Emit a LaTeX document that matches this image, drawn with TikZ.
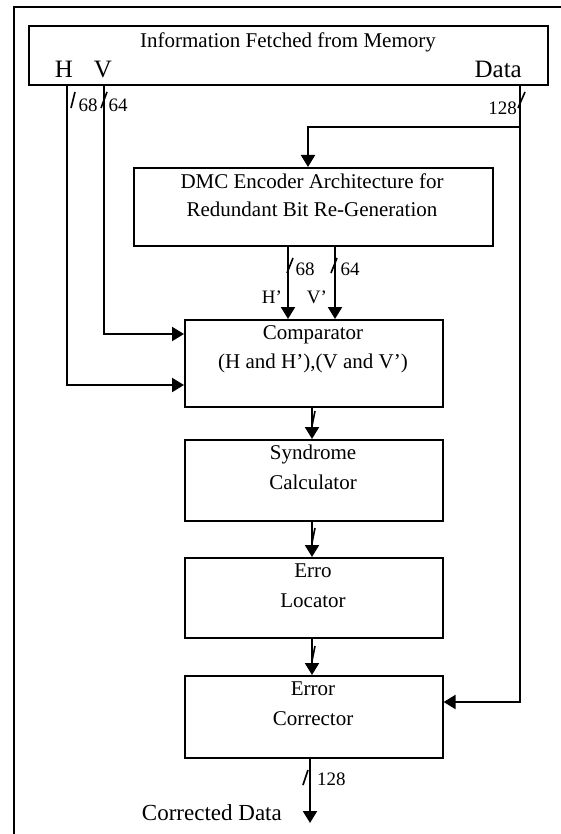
\documentclass[tikz,border=0pt]{standalone}
\usepackage{fontspec}
\setmainfont{Liberation Serif}
\usetikzlibrary{arrows.meta}
\newcommand{\fsz}[1]{\fontsize{#1}{#1}\selectfont}
\begin{document}
\begin{tikzpicture}[x=1pt,y=-1pt,
  box/.style={draw,line width=1.6pt,inner sep=0pt,anchor=north west},
  lbl/.style={inner sep=0pt,anchor=base,font=\fsz{21}},
  num/.style={inner sep=0pt,anchor=base,font=\fsz{19}},
  big/.style={inner sep=0pt,anchor=base,font=\fsz{25}},
  arr/.style={line width=2.1pt,-{Triangle[length=12pt,width=14pt]}},
  slash/.style={line width=1.6pt}]
\useasboundingbox (0,0) rectangle (561,834);
% outer frame (open to the right and bottom)
\draw[line width=1.6pt] (14,834) -- (14,7) -- (561,7);
% boxes
\node[box,minimum width=519pt,minimum height=59pt] (mem) at (28,25) {};
\node[box,minimum width=359pt,minimum height=78pt] (dmc) at (133,167) {};
\node[box,minimum width=258pt,minimum height=87pt] (comp) at (184,319) {};
\node[box,minimum width=258pt,minimum height=81pt] (syn) at (184,439) {};
\node[box,minimum width=258pt,minimum height=80pt] (loc) at (184,557) {};
\node[box,minimum width=258pt,minimum height=82pt] (cor) at (184,675) {};
% box texts
\node[lbl] (t1) at (288,48) {Information Fetched from Memory};
\node[big] (tH) at (64,78) {H};
\node[big] (tV) at (103,78) {V};
\node[big,anchor=base east] (tD) at (522,78) {Data};
\node[lbl] (d1) at (312,189) {DMC Encoder Architecture for};
\node[lbl] (d2) at (312,217) {Redundant Bit Re-Generation};
\node[lbl] (c1) at (313,339) {Comparator};
\node[lbl] (c2) at (313,368) {(H and H’),(V and V’)};
\node[lbl] (s1) at (313,459) {Syndrome};
\node[lbl] (s2) at (313,489) {Calculator};
\node[lbl] (l1) at (313,577) {Erro};
\node[lbl] (l2) at (313,607) {Locator};
\node[lbl] (e1) at (313,695) {Error};
\node[lbl] (e2) at (313,725) {Corrector};
% turning points
\coordinate (hturn) at (67,385);
\coordinate (vturn) at (104,334);
\coordinate (dturn) at (520,702);
\coordinate (dbranch) at (520,127);
\coordinate (dmcin) at (308,127);
\coordinate (hp) at (288,0);
\coordinate (vp) at (335,0);
\coordinate (mid) at (312,0);
\coordinate (outx) at (310,0);
\coordinate (outend) at (310,823);
% connectors
\draw[arr] (hturn |- mem.south) -- (hturn) -- (hturn -| comp.west);
\draw[arr] (vturn |- mem.south) -- (vturn) -- (vturn -| comp.west);
\draw[arr] (dturn |- mem.south) -- (dturn) -- (dturn -| cor.east);
\draw[arr] (dbranch) -- (dmcin) -- (dmcin |- dmc.north);
\draw[arr] (hp |- dmc.south) -- (hp |- comp.north);
\draw[arr] (vp |- dmc.south) -- (vp |- comp.north);
\draw[arr] (mid |- comp.south) -- (mid |- syn.north);
\draw[arr] (mid |- syn.south) -- (mid |- loc.north);
\draw[arr] (mid |- loc.south) -- (mid |- cor.north);
\draw[arr] (outx |- cor.south) -- (outend);
% bus slashes
\draw[slash] (71,108) -- (75,92);
\draw[slash] (101,108) -- (107,92);
\draw[slash] (518,108) -- (525,92);
\draw[slash] (287,273) -- (293,258);
\draw[slash] (331,273) -- (337,258);
\draw[slash] (312,426) -- (315,411);
\draw[slash] (312,543) -- (315,528);
\draw[slash] (312,661) -- (315,646);
\draw[slash] (303,785) -- (308,770);
% bus labels
\node[num] (n68a) at (88,112) {68};
\node[num] (n64a) at (118,112) {64};
\node[num,anchor=base east] (n128a) at (517,115) {128};
\node[num] (n68b) at (305,275) {68};
\node[num] (n64b) at (350,275) {64};
\node[num] (hpr) at (272,303) {H’};
\node[num] (vpr) at (317,303) {V’};
\node[num,anchor=base west] (n128b) at (317,785) {128};
\node[big,anchor=base east,font=\fsz{23}] (out) at (282,820) {Corrected Data};
\end{tikzpicture}
\end{document}
